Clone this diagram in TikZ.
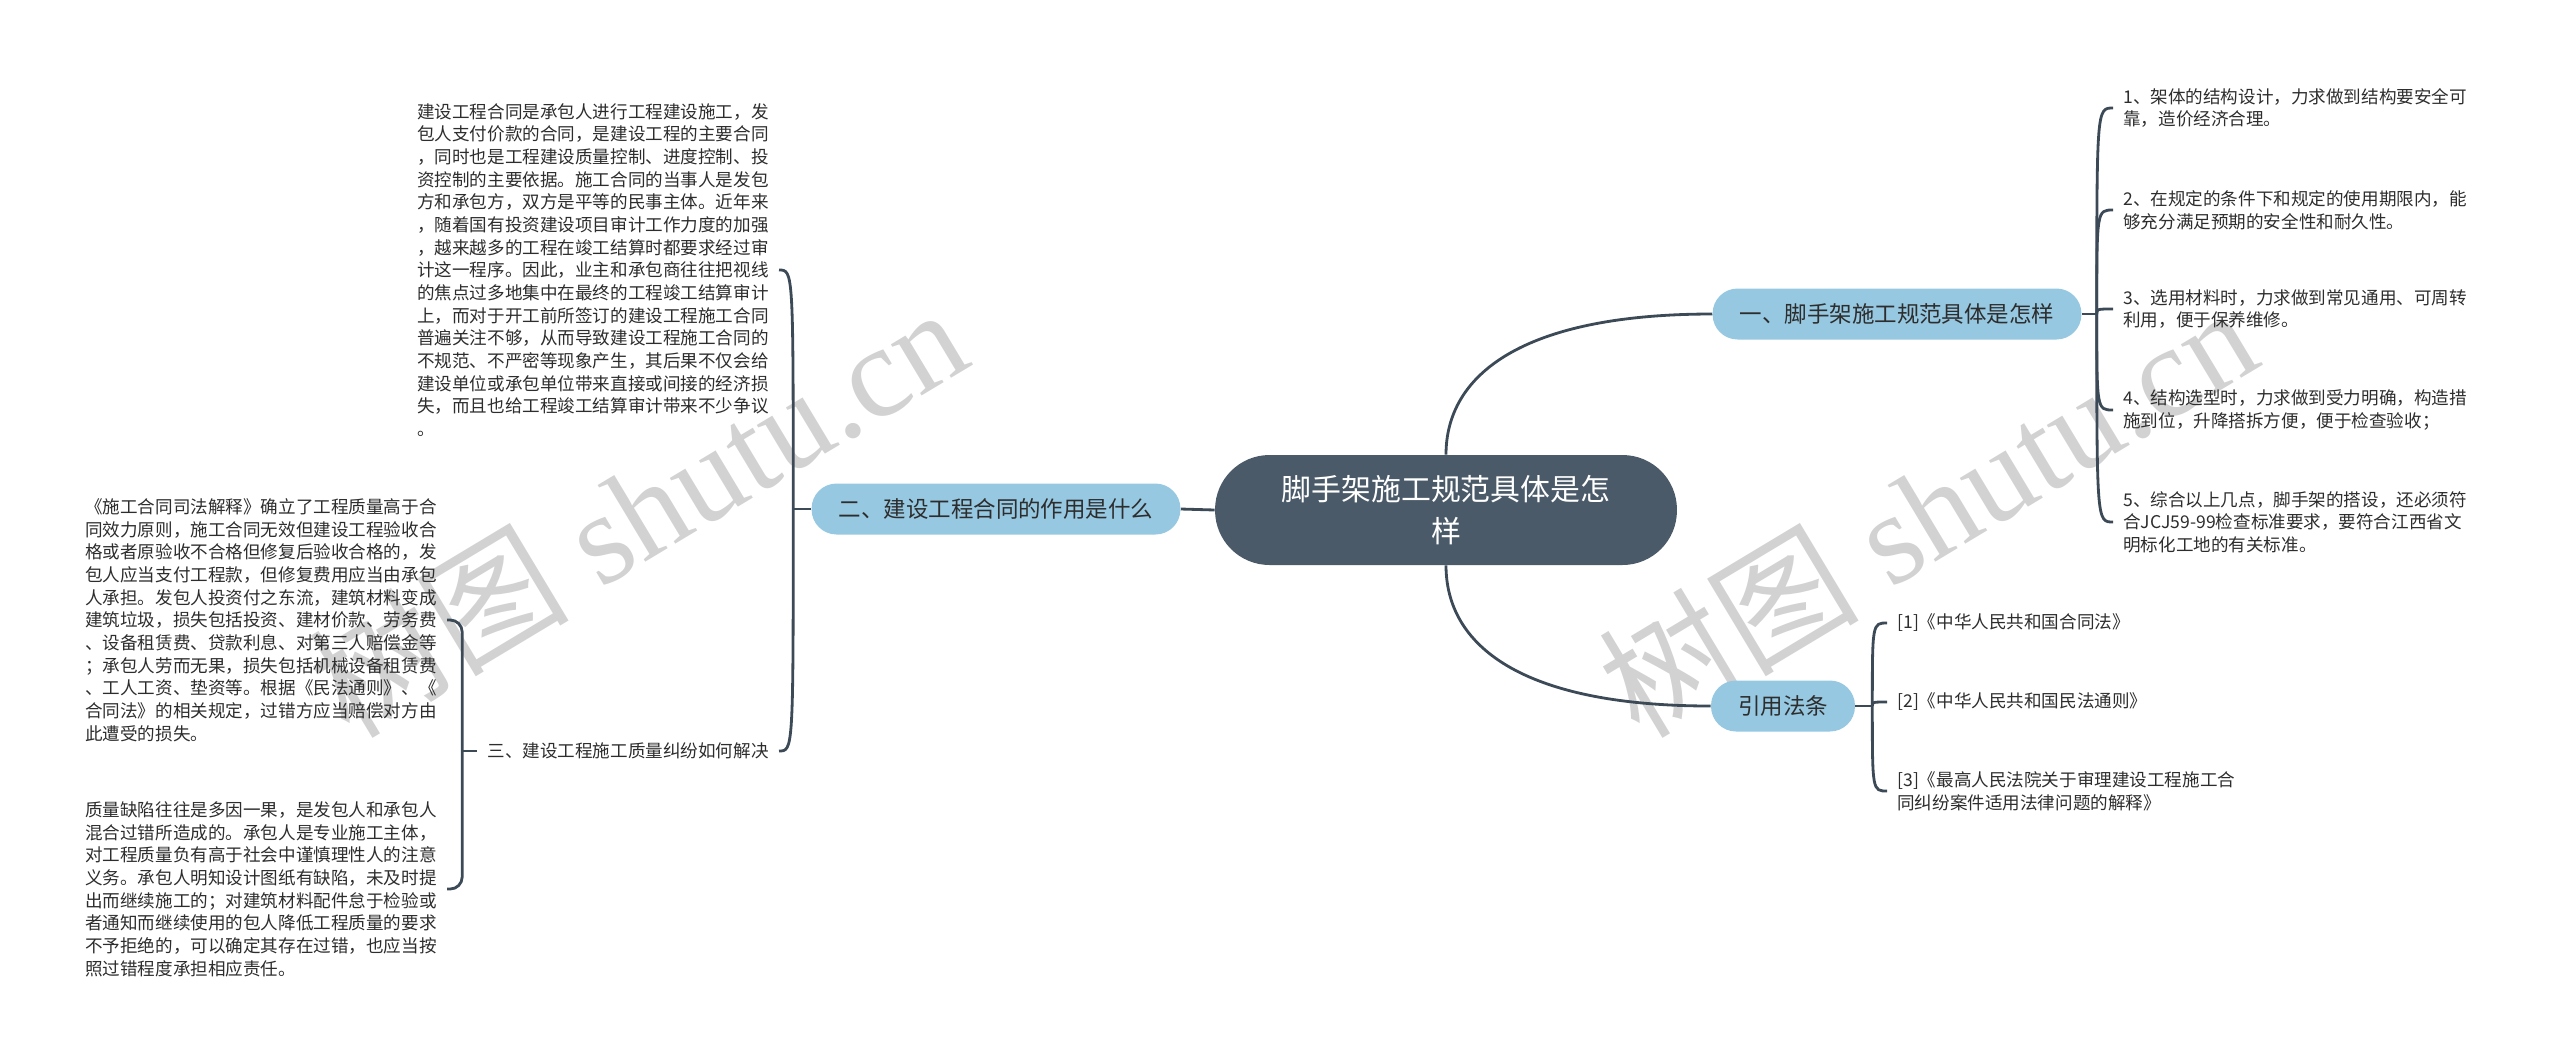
\documentclass[tikz,border=0pt]{standalone}
\usepackage{fontspec}
\usepackage{xcolor}
\usepackage{tikz}
\usetikzlibrary{positioning}
\newfontfamily\cjk{Noto Sans CJK SC}
\newfontfamily\wmserif{Liberation Serif}
\definecolor{rootslate}{RGB}{74, 90, 105}
\definecolor{topicblue}{RGB}{150, 200, 225}
\definecolor{linkslate}{RGB}{60, 74, 88}
\definecolor{inkdark}{RGB}{45, 45, 45}

\begin{document}
\begin{tikzpicture}[x=0.02cm, y=-0.02cm,
    root/.style={fill=rootslate, text=white, rounded corners=1.09cm,
                 minimum width=9.24cm, minimum height=2.2cm, align=center,
                 font=\cjk\fontsize{17pt}{24pt}\selectfont},
    topic/.style={fill=topicblue, text=inkdark, rounded corners=0.5cm,
                  minimum height=1.02cm, inner xsep=0.54cm,
                  font=\cjk\fontsize{12.8pt}{15pt}\selectfont},
    leaf/.style={align=left, inner sep=0.2cm, text=inkdark,
                 font=\cjk\fontsize{10pt}{12.9pt}\selectfont},
    link/.style={draw=linkslate, line width=1.6pt},
    wmark/.style={text=gray!35, rotate=31,
                  font=\wmserif\fontsize{74pt}{80pt}\selectfont}]
    \useasboundingbox (0,0) rectangle (2560,1063);

    % watermark
    \node[wmark] (wmleft) at (637,510) {{\cjk 树图} shutu.cn};
    \node[wmark] (wmright) at (1927,510) {{\cjk 树图} shutu.cn};

    % centre and main topics
    \node[root] (root) at (1446,510) {脚手架施工规范具体是怎\\样};
    \node[topic] (spec) at (1897,314) {一、脚手架施工规范具体是怎样};
    \node[topic] (role) at (996,509) {二、建设工程合同的作用是什么};
    \node[topic] (law) at (1783,706) {引用法条};

    \draw[link] (root.north) .. controls +(0,-80) and +(-190,0) .. (spec.west);
    \draw[link] (root.south) .. controls +(0,80) and +(-190,0) .. (law.west);
    \draw[link] (root.west) -- (role.east);

    % left side
    \node[leaf, anchor=east] (contract) at (779,270)
          {建设工程合同是承包人进行工程建设施工，发\\
           包人支付价款的合同，是建设工程的主要合同\\
           ，同时也是工程建设质量控制、进度控制、投\\
           资控制的主要依据。施工合同的当事人是发包\\
           方和承包方，双方是平等的民事主体。近年来\\
           ，随着国有投资建设项目审计工作力度的加强\\
           ，越来越多的工程在竣工结算时都要求经过审\\
           计这一程序。因此，业主和承包商往往把视线\\
           的焦点过多地集中在最终的工程竣工结算审计\\
           上，而对于开工前所签订的建设工程施工合同\\
           普遍关注不够，从而导致建设工程施工合同的\\
           不规范、不严密等现象产生，其后果不仅会给\\
           建设单位或承包单位带来直接或间接的经济损\\
           失，而且也给工程竣工结算审计带来不少争议\\
           。};
    \node[leaf, anchor=east] (sanwen) at (779,751) {三、建设工程施工质量纠纷如何解决};
    \node[leaf, anchor=east] (repair) at (447,620)
          {《施工合同司法解释》确立了工程质量高于合\\
           同效力原则，施工合同无效但建设工程验收合\\
           格或者原验收不合格但修复后验收合格的，发\\
           包人应当支付工程款，但修复费用应当由承包\\
           人承担。发包人投资付之东流，建筑材料变成\\
           建筑垃圾，损失包括投资、建材价款、劳务费\\
           、设备租赁费、贷款利息、对第三人赔偿金等\\
           ；承包人劳而无果，损失包括机械设备租赁费\\
           、工人工资、垫资等。根据《民法通则》、《\\
           合同法》的相关规定，过错方应当赔偿对方由\\
           此遭受的损失。};
    \node[leaf, anchor=east] (fault) at (447,889)
          {质量缺陷往往是多因一果，是发包人和承包人\\
           混合过错所造成的。承包人是专业施工主体，\\
           对工程质量负有高于社会中谨慎理性人的注意\\
           义务。承包人明知设计图纸有缺陷，未及时提\\
           出而继续施工的；对建筑材料配件怠于检验或\\
           者通知而继续使用的包人降低工程质量的要求\\
           不予拒绝的，可以确定其存在过错，也应当按\\
           照过错程度承担相应责任。};

    \coordinate (rolej) at ([xshift=-0.36cm]role.west);
    \draw[link] (role.west) -- (rolej);
    \foreach \n in {contract, sanwen}
        \draw[link] (rolej) .. controls (rolej |- \n.east) .. (\n.east);
    \draw[link] (sanwen.west) -- ++(-15,0);
    \draw[link, rounded corners=0.24cm]
          (repair.east) -| ([xshift=-0.3cm]sanwen.west) |- (fault.east);

    % right side
    \node[leaf, anchor=west] (spec1) at (2113,108)
          {1、架体的结构设计，力求做到结构要安全可\\靠，造价经济合理。};
    \node[leaf, anchor=west] (spec2) at (2113,210)
          {2、在规定的条件下和规定的使用期限内，能\\够充分满足预期的安全性和耐久性。};
    \node[leaf, anchor=west] (spec3) at (2113,309)
          {3、选用材料时，力求做到常见通用、可周转\\利用，便于保养维修。};
    \node[leaf, anchor=west] (spec4) at (2113,410)
          {4、结构选型时，力求做到受力明确，构造措\\施到位，升降搭拆方便，便于检查验收；};
    \node[leaf, anchor=west] (spec5) at (2113,522)
          {5、综合以上几点，脚手架的搭设，还必须符\\合JCJ59-99检查标准要求，要符合江西省文\\明标化工地的有关标准。};

    \coordinate (specj) at ([xshift=0.3cm]spec.east);
    \draw[link] (spec.east) -- (specj);
    \foreach \n in {spec1, spec2, spec3, spec4, spec5}
        \draw[link] (specj) .. controls (specj |- \n.west) .. (\n.west);

    \node[leaf, anchor=west] (law1) at (1887,623) {[1]《中华人民共和国合同法》};
    \node[leaf, anchor=west] (law2) at (1887,702) {[2]《中华人民共和国民法通则》};
    \node[leaf, anchor=west] (law3) at (1887,791)
          {[3]《最高人民法院关于审理建设工程施工合\\同纠纷案件适用法律问题的解释》};

    \coordinate (lawj) at ([xshift=0.34cm]law.east);
    \draw[link] (law.east) -- (lawj);
    \foreach \n in {law1, law2, law3}
        \draw[link] (lawj) .. controls (lawj |- \n.west) .. (\n.west);
\end{tikzpicture}
\end{document}
